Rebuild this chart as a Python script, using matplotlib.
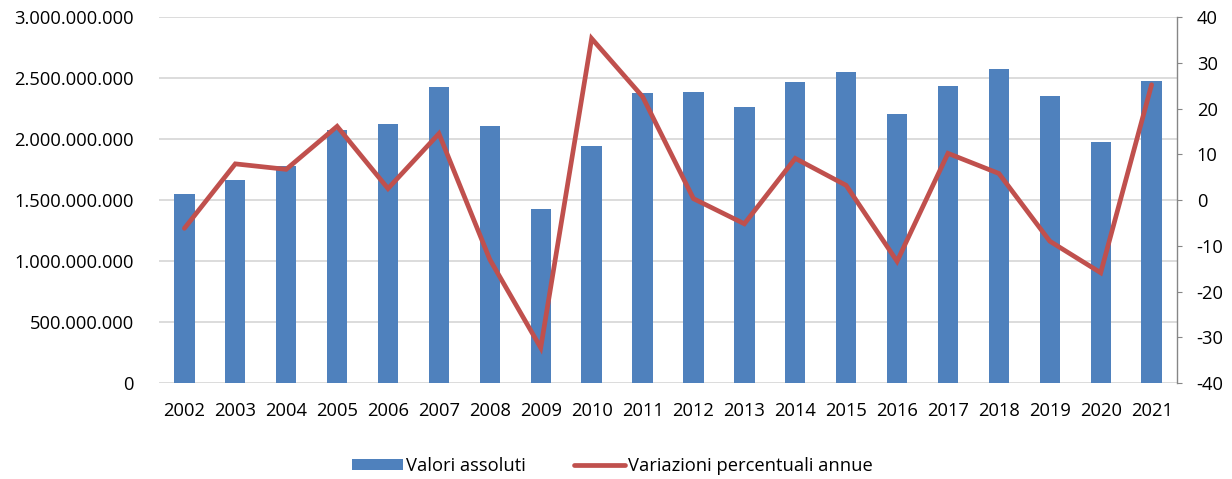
import numpy as np
import matplotlib
matplotlib.use("Agg")
import matplotlib.pyplot as plt
from matplotlib.ticker import FuncFormatter

plt.rcParams["font.family"] = ["Open Sans", "DejaVu Sans"]
plt.rcParams["axes.unicode_minus"] = False

years = [str(y) for y in range(2002, 2022)]
valori = [1.547e9, 1.667e9, 1.779e9, 2.071e9, 2.120e9, 2.429e9, 2.109e9, 1.429e9,
          1.943e9, 2.377e9, 2.388e9, 2.260e9, 2.465e9, 2.547e9, 2.205e9, 2.432e9,
          2.574e9, 2.350e9, 1.973e9, 2.478e9]
variazioni = [-6.2, 7.9, 6.7, 16.1, 2.5, 14.5, -13.0, -32.3, 35.3, 22.6,
              0.3, -5.2, 9.1, 3.2, -13.4, 10.2, 5.8, -9.0, -15.9, 25.2]

BLUE = "#4F81BD"; RED = "#C0504D"; GRID = "#D9D9D9"
FS = 13.2

fig = plt.figure(figsize=(12.32, 4.79), dpi=100)
ax = fig.add_axes([0.129, 0.2004, 0.8264, 0.7641])
x = np.arange(len(years))
bars = ax.bar(x, valori, 0.4, color=BLUE, zorder=2, label="Valori assoluti")
ax.set_xlim(-0.5, len(years) - 0.5)
ax.set_ylim(0, 3e9)
ax.set_yticks(np.arange(0, 3.0e9 + 1, 5e8))
ax.yaxis.set_major_formatter(FuncFormatter(lambda v, p: f"{int(v):,}".replace(",", ".")))
ax.set_xticks(x)
ax.set_xticklabels(years)
ax.grid(axis="y", color=GRID, lw=1.3, zorder=0)
ax.tick_params(axis="both", length=0, labelsize=FS, colors="#000000")
ax.tick_params(axis="x", pad=14)
ax.tick_params(axis="y", pad=18)
for s in ax.spines.values():
    s.set_visible(False)

ax2 = ax.twinx()
line, = ax2.plot(x, variazioni, color=RED, lw=3.4, solid_joinstyle="miter",
                 solid_capstyle="round", zorder=3, label="Variazioni percentuali annue")
ax2.set_ylim(-40, 40)
ax2.set_yticks(np.arange(-40, 41, 10))
for s in ["top", "left", "bottom"]:
    ax2.spines[s].set_visible(False)
ax2.spines["right"].set_color("#868686")
ax2.spines["right"].set_linewidth(1.0)
ax2.tick_params(axis="y", length=3.6, color="#868686", labelsize=FS, pad=10.5)

fig.legend([bars, line], ["Valori assoluti", "Variazioni percentuali annue"],
           loc="center", bbox_to_anchor=(0.497, 0.027), ncol=2, frameon=False,
           fontsize=FS, handlelength=2.8, handleheight=0.6, handletextpad=0.15,
           columnspacing=2.6)

fig.savefig("out.png", dpi=100)
